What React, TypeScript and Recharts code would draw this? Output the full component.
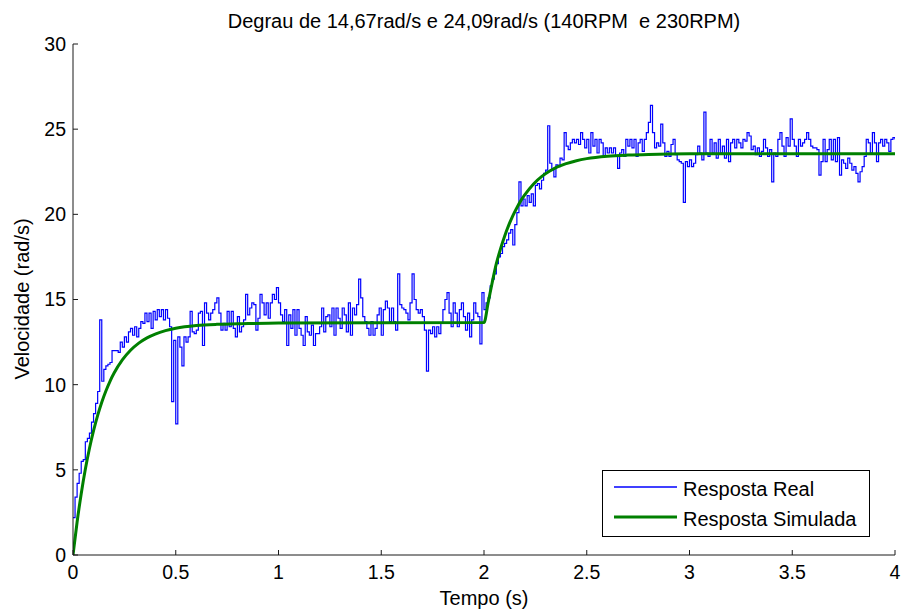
import React from "react";
import { LineChart, Line, XAxis, YAxis } from "recharts";

// measured speed, one sample every 10 ms from 0 to 4 s
const SAMPLE_STEP = 0.01;
const realSpeed = [
  2.2, 3.4, 4.2, 4.8, 5.5, 5.6, 6.65, 6.85, 7.15, 7.8,
  8.3, 8.9, 9.6, 13.8, 10.2, 10.9, 11.1, 11.2, 11.3, 12.0,
  12.0, 12.0, 11.9, 12.5, 12.2, 12.8, 12.5, 13.1, 13.3, 12.9,
  13.4, 12.8, 13.3, 13.7, 13.6, 14.2, 13.7, 14.2, 13.3, 14.3,
  13.8, 14.4, 14.0, 14.4, 13.8, 14.4, 13.9, 13.4, 9.0, 12.6,
  7.7, 12.8, 12.2, 11.1, 12.8, 12.5, 12.8, 14.3, 13.1, 13.0,
  13.2, 14.2, 14.3, 12.3, 14.8, 14.2, 13.8, 14.2, 14.4, 14.8,
  15.1, 14.2, 13.2, 13.6, 13.2, 14.3, 13.4, 14.3, 13.3, 12.8,
  14.0, 13.1, 13.4, 13.8, 15.3, 14.1, 14.5, 14.8, 14.7, 13.2,
  13.9, 15.3, 14.8, 14.1, 14.8, 13.9, 14.8, 15.3, 15.0, 15.7,
  14.8, 14.1, 13.7, 14.4, 12.3, 14.1, 13.3, 14.4, 12.9, 14.4,
  13.3, 12.9, 12.3, 14.0, 13.1, 12.9, 13.5, 12.3, 13.0, 13.0,
  13.4, 14.5, 13.1, 14.0, 14.1, 13.4, 14.5, 12.9, 14.5, 13.9,
  13.3, 14.5, 14.1, 13.1, 14.8, 12.9, 14.5, 14.1, 14.7, 16.2,
  15.1, 14.0, 13.7, 13.3, 12.9, 13.7, 12.9, 13.3, 14.1, 14.5,
  12.9, 14.4, 14.9, 14.5, 13.7, 14.5, 13.7, 13.2, 16.5, 14.7,
  14.5, 14.4, 14.2, 13.8, 14.8, 16.5, 15.0, 14.4, 14.2, 14.4,
  14.0, 13.2, 10.8, 13.2, 13.0, 13.4, 12.8, 13.4, 13.0, 13.6,
  14.4, 15.0, 15.4, 14.2, 13.4, 14.8, 14.2, 13.4, 14.4, 14.8,
  14.0, 13.2, 14.2, 12.8, 13.8, 14.8, 14.2, 14.0, 12.4, 15.4,
  14.4, 14.8, 15.1, 15.8, 16.2, 16.5, 17.1, 17.5, 17.7, 18.1,
  18.3, 18.5, 18.9, 19.1, 18.2, 19.4, 20.1, 21.9, 20.5, 20.9,
  20.5, 21.1, 20.7, 21.2, 20.5, 21.7, 21.8, 21.5, 22.0, 22.4,
  22.6, 25.2, 23.0, 22.6, 22.2, 22.9, 22.8, 23.3, 23.2, 24.8,
  24.0, 23.8, 24.2, 24.4, 24.2, 24.4, 24.1, 24.8, 24.4, 23.9,
  24.4, 23.6, 24.8, 24.0, 24.4, 23.6, 24.4, 24.2, 23.4, 23.9,
  23.6, 23.9, 23.6, 23.9, 23.4, 22.7, 23.6, 23.8, 23.4, 24.4,
  24.0, 24.4, 23.9, 24.4, 23.4, 24.2, 24.4, 23.7, 24.4, 24.8,
  25.4, 26.4, 24.8, 23.9, 24.2, 24.0, 25.3, 24.2, 23.4, 23.7,
  23.4, 24.1, 24.4, 23.5, 23.2, 23.1, 23.0, 20.7, 23.1, 22.8,
  23.2, 22.8, 23.0, 23.5, 24.0, 23.6, 23.2, 26.0, 23.6, 23.4,
  24.4, 23.6, 24.2, 23.3, 24.4, 23.6, 24.0, 23.3, 24.4, 23.1,
  24.2, 24.4, 23.9, 24.4, 24.2, 23.9, 24.4, 24.3, 24.8, 24.6,
  23.8, 24.0, 23.5, 23.9, 23.4, 23.7, 24.4, 23.9, 23.4, 23.8,
  21.9, 23.6, 23.4, 24.4, 24.8, 24.0, 23.4, 24.5, 24.0, 25.6,
  24.4, 24.0, 23.4, 24.4, 24.0, 24.2, 24.4, 24.8, 24.4, 24.0,
  23.9, 23.9, 23.8, 22.3, 23.1, 24.4, 23.1, 23.8, 24.4, 23.2,
  24.4, 23.1, 24.5, 22.3, 23.2, 23.0, 22.7, 23.3, 23.0, 22.6,
  22.8, 22.4, 21.9, 22.5, 22.8, 23.4, 24.4, 24.2, 23.6, 24.8,
  24.2, 23.1, 24.2, 24.4, 24.0, 24.4, 24.2, 23.7, 24.4, 24.5,
  24.4,
];

// simulated (model) response
const simTime = [
  0, 0.02, 0.04, 0.06, 0.08, 0.1, 0.12, 0.14, 0.16, 0.18, 0.2, 0.24, 0.28,
  0.32, 0.36, 0.4, 0.45, 0.5, 0.6, 0.7, 0.8, 1.0, 2.0, 2.02, 2.04, 2.06, 2.08,
  2.1, 2.12, 2.14, 2.16, 2.18, 2.2, 2.24, 2.28, 2.32, 2.36, 2.4, 2.45, 2.5,
  2.6, 2.7, 2.8, 3.0, 4.0,
];
const simSpeed = [
  0, 1.94, 3.6, 5.03, 6.25, 7.3, 8.2, 8.97, 9.63, 10.2, 10.68, 11.45, 12.02,
  12.44, 12.75, 12.97, 13.17, 13.31, 13.47, 13.54, 13.57, 13.62, 13.65, 14.8,
  16.0, 17.1, 17.96, 18.7, 19.35, 19.91, 20.39, 20.82, 21.17, 21.77, 22.21,
  22.54, 22.8, 22.98, 23.15, 23.27, 23.41, 23.48, 23.52, 23.55, 23.55,
];

const xTicks = [0, 0.5, 1, 1.5, 2, 2.5, 3, 3.5, 4];
const yTicks = [0, 5, 10, 15, 20, 25, 30];

const seriesNames = ["Resposta Real", "Resposta Simulada"];
const title = "Degrau de 14,67rad/s e 24,09rad/s (140RPM  e 230RPM)";
const xLabel = "Tempo (s)";
const yLabel = "Velocidade (rad/s)";

const realData = realSpeed.map((v, i) => ({
  t: Number((i * SAMPLE_STEP).toFixed(2)),
  v,
}));
const simData = simTime.map((t, i) => ({ t, v: simSpeed[i] }));

const W = 901;
const H = 614;
const FONT = "'Liberation Sans', Arial, Helvetica, sans-serif";
const BLUE = "#0000ff";
const GREEN = "#008000";
const AXIS = "#1a1a1a";

export default function App() {
  const tickStyle = { fontSize: 19.5, fill: "#000", fontFamily: FONT };
  return (
    <div
      style={{
        position: "absolute",
        left: 0,
        top: 0,
        width: W,
        height: H,
        background: "#fff",
      }}
    >
      <LineChart
        width={W}
        height={H}
        margin={{ top: 44, right: 6, bottom: 0, left: 0 }}
      >
        <XAxis
          dataKey="t"
          type="number"
          domain={[0, 4]}
          ticks={xTicks}
          allowDataOverflow
          height={59}
          tickSize={-5}
          tickMargin={15}
          stroke={AXIS}
          tick={tickStyle}
          interval={0}
        />
        <XAxis
          xAxisId="top"
          orientation="top"
          type="number"
          domain={[0, 4]}
          ticks={xTicks}
          height={0}
          tickSize={-5}
          tick={false}
          stroke={AXIS}
        />
        <YAxis
          type="number"
          domain={[0, 30]}
          ticks={yTicks}
          allowDataOverflow
          width={73}
          tickSize={-5}
          tickMargin={12}
          stroke={AXIS}
          tick={tickStyle}
          interval={0}
        />
        <YAxis
          yAxisId="right"
          orientation="right"
          type="number"
          domain={[0, 30]}
          ticks={yTicks}
          width={0}
          tickSize={-5}
          tick={false}
          stroke={AXIS}
        />
        <Line
          data={realData}
          dataKey="v"
          name={seriesNames[0]}
          type="stepAfter"
          stroke={BLUE}
          strokeWidth={1.2}
          dot={false}
          activeDot={false}
          isAnimationActive={false}
        />
        <Line
          data={simData}
          dataKey="v"
          name={seriesNames[1]}
          type="monotone"
          stroke={GREEN}
          strokeWidth={3}
          dot={false}
          activeDot={false}
          isAnimationActive={false}
        />
      </LineChart>

      {/* title, axis labels and the boxed legend, MATLAB style */}
      <svg
        width={W}
        height={H}
        style={{ position: "absolute", left: 0, top: 0, pointerEvents: "none" }}
        fontFamily={FONT}
      >
        <text
          x={484}
          y={27.5}
          fontSize={20}
          textAnchor="middle"
          fill="#000"
          style={{ whiteSpace: "pre" }}
        >
          {title}
        </text>
        <text x={484} y={605} fontSize={20} textAnchor="middle" fill="#000">
          {xLabel}
        </text>
        <text
          x={0}
          y={0}
          fontSize={20}
          textAnchor="middle"
          fill="#000"
          transform="translate(29 299) rotate(-90)"
        >
          {yLabel}
        </text>

        <rect
          x={602.5}
          y={470.5}
          width={267}
          height={66}
          fill="#fff"
          stroke="#000"
          strokeWidth={1}
        />
        <line x1={614} y1={487} x2={677} y2={487} stroke={BLUE} strokeWidth={1.5} />
        <text x={683} y={496} fontSize={20} fill="#000">
          {seriesNames[0]}
        </text>
        <line x1={614} y1={517} x2={677} y2={517} stroke={GREEN} strokeWidth={3} />
        <text x={683} y={526} fontSize={20} fill="#000">
          {seriesNames[1]}
        </text>
      </svg>
    </div>
  );
}
